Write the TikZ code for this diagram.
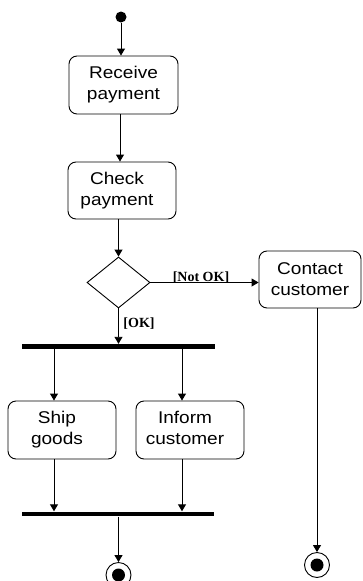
\documentclass[tikz,border=0pt]{standalone}
\usepackage{fontspec}
\setmainfont{Liberation Sans}
\newfontfamily\actfont[FakeStretch=1.12]{Liberation Sans}
\newfontfamily\guardfont{Liberation Serif}
\usetikzlibrary{arrows.meta,shapes.geometric}

% text block pulled slightly to the left inside its box
\newcommand{\leftish}[1]{\begin{tabular}{@{}c@{\hspace{10pt}}}#1\end{tabular}}

\begin{document}
\begin{tikzpicture}[x=1pt,y=-1pt,
  line width=0.9pt,
  act/.style={draw, rounded corners=8pt, minimum width=108pt, minimum height=57pt,
    inner sep=0pt, align=center, font=\actfont\fontsize{17}{21}\selectfont},
  decision/.style={draw, diamond, minimum width=63pt, minimum height=51pt, inner sep=0pt},
  syncbar/.style={fill=black, draw=none, rectangle, minimum width=193pt, minimum height=4.5pt, inner sep=0pt},
  guard/.style={font=\guardfont\bfseries\fontsize{14}{16}\selectfont, inner sep=0pt},
  arr/.style={-{Triangle[length=7pt,width=8pt]}},
  initial/.style={circle, fill=black, minimum size=11pt, inner sep=0pt},
  final/.style={circle, draw, minimum size=25pt, inner sep=0pt,
    path picture={\fill (path picture bounding box.center) circle (6.5pt);}}
]
\useasboundingbox (0,0) rectangle (363,581);

% activity nodes
\node[initial] (start) at (121,17) {};
\node[act, minimum width=109pt, minimum height=58pt] (recv) at (123.5,85) {Receive\\payment};
\node[act] (check) at (122,190.5) {\leftish{Check\\payment}};
\node[decision] (dec) at (118.5,282.5) {};
\node[act, minimum width=102pt] (contact) at (310,279.5) {Contact\\customer};
\node[syncbar] (fork) at (118.5,346.5) {};
\node[act, minimum height=58pt] (ship) at (62,430) {\leftish{Ship\\goods}};
\node[act, minimum height=58pt] (inform) at (190,430) {\leftish{Inform\\customer}};
\node[syncbar, minimum width=192pt] (join) at (118,514) {};
\node[final] (end1) at (118.5,575) {};
\node[final] (end2) at (317,565) {};

% guard labels
\node[guard, anchor=base] (notok) at (201,281) {[Not OK]};
\node[guard, anchor=base] (ok) at (139,327) {[OK]};

% column positions of the vertical connectors
\coordinate (cstart) at (121,0);
\coordinate (crecv) at (120,0);
\coordinate (cdec) at (118.5,0);
\coordinate (cship) at (54,0);
\coordinate (cinform) at (182,0);
\coordinate (ccontact) at (317,0);

% connectors
\draw[arr] (start.south) -- (recv.north -| cstart);
\draw[arr] (recv.south -| crecv) -- (check.north -| crecv);
\draw[arr] (check.south -| cdec) -- (dec.north);
\draw[arr] (dec.east) -- (contact.west |- dec.east);
\draw[arr] (dec.south) -- (fork.north -| cdec);
\draw[arr] (fork.south -| cship) -- (ship.north -| cship);
\draw[arr] (fork.south -| cinform) -- (inform.north -| cinform);
\draw[arr] (ship.south -| cship) -- (join.north -| cship);
\draw[arr] (inform.south -| cinform) -- (join.north -| cinform);
\draw[arr] (join.south -| end1) -- (end1.north);
\draw[arr] (contact.south -| ccontact) -- (end2.north);
\end{tikzpicture}
\end{document}
